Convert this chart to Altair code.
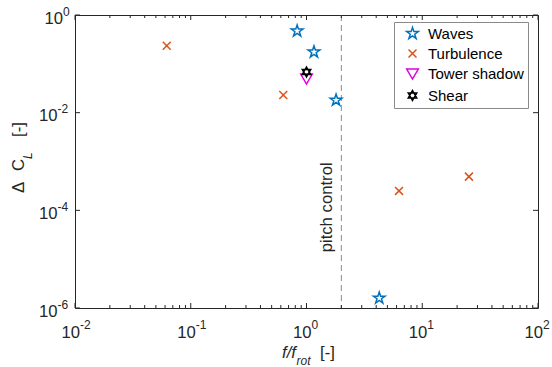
import altair as alt
import pandas as pd

# ---- data -------------------------------------------------------------
series_names = ["Waves", "Turbulence", "Tower shadow", "Shear"]
series_colors = ["#0072BD", "#D95319", "#E000E0", "#000000"]

waves_x = [0.83, 1.16, 1.8, 4.25]
waves_y = [0.47, 0.175, 0.018, 1.6e-6]
turb_x = [0.062, 0.63, 6.3, 25.3]
turb_y = [0.235, 0.023, 2.5e-4, 4.9e-4]
tower_x = [1.0]
tower_y = [0.05]
shear_x = [1.0]
shear_y = [0.068]

pitch_control_f = 2.0
pitch_label_y = 1.15e-4

x_exponents = [-2, -1, 0, 1, 2]
y_exponents = [-6, -4, -2, 0]

# ---- layout -----------------------------------------------------------
W, H = 463, 293
FONT = "Liberation Sans"
INK = "#262626"
AX_FS = 16.7   # axis text
SUP_FS = 12    # superscripts / subscripts
LEG_FS = 15    # legend entries
MSIZE = 150

# marker outlines on a [-1, 1] box
STAR = ("M0,-1L0.2245,-0.309L0.9511,-0.309L0.3633,0.118L0.5878,0.809L0,0.382"
        "L-0.5878,0.809L-0.3633,0.118L-0.9511,-0.309L-0.2245,-0.309Z")
XMARK = "M-0.65,-0.65L0.65,0.65M-0.65,0.65L0.65,-0.65"
TRI_DOWN = "M-0.95,-0.72L0.95,-0.72L0,0.9Z"
HEXAGRAM = ("M0,-0.8L0.6928,0.4L-0.6928,0.4Z"
            "M0,0.8L0.6928,-0.4L-0.6928,-0.4Z")
series_shapes = [STAR, XMARK, TRI_DOWN, HEXAGRAM]

rows = []
for name, xs_, ys_ in [("Waves", waves_x, waves_y),
                       ("Turbulence", turb_x, turb_y),
                       ("Tower shadow", tower_x, tower_y),
                       ("Shear", shear_x, shear_y)]:
    for a, b in zip(xs_, ys_):
        rows.append({"series": name, "f": a, "dcl": b})
points_df = pd.DataFrame(rows)

xs = alt.Scale(type="log", domain=[1e-2, 1e2], nice=False)
ys = alt.Scale(type="log", domain=[1e-6, 1], nice=False)

legend = alt.Legend(
    title=None, orient="none", legendX=319, legendY=7,
    strokeColor="#8a8a8a", fillColor="white", padding=4,
    rowPadding=4, symbolOffset=7, labelOffset=8,
    labelFont=FONT, labelFontSize=LEG_FS, labelColor="#000000", labelLimit=0,
    symbolSize=MSIZE, symbolStrokeWidth=1.5,
)

points = alt.Chart(points_df).mark_point(
    filled=False, size=MSIZE, strokeWidth=1.5, opacity=1
).encode(
    x=alt.X("f:Q", scale=xs, axis=None),
    y=alt.Y("dcl:Q", scale=ys, axis=None),
    color=alt.Color("series:N",
                    scale=alt.Scale(domain=series_names, range=series_colors),
                    legend=legend),
    shape=alt.Shape("series:N",
                    scale=alt.Scale(domain=series_names, range=series_shapes),
                    legend=legend),
)

# ---- pitch control marker line and label ------------------------------
pitch_df = pd.DataFrame({"f": [pitch_control_f], "dcl": [pitch_label_y],
                         "label": ["pitch control"]})
pitch_line = alt.Chart(pitch_df).mark_rule(
    color="#8c8c8c", strokeWidth=1, strokeDash=[6, 4]
).encode(x=alt.X("f:Q", scale=xs, axis=None))
pitch_text = alt.Chart(pitch_df).mark_text(
    angle=270, align="center", baseline="bottom", dy=-5,
    font=FONT, fontSize=AX_FS, color=INK
).encode(x=alt.X("f:Q", scale=xs, axis=None),
         y=alt.Y("dcl:Q", scale=ys, axis=None), text="label:N")

# ---- tick marks (inside, on all four sides) ---------------------------
x_major = [10.0 ** e for e in x_exponents]
x_minor = [m * 10.0 ** e for e in x_exponents[:-1] for m in range(2, 10)]
y_major = [10.0 ** e for e in y_exponents]


def xticks(values, length):
    d = pd.DataFrame({"f": values})
    bottom = alt.Chart(d).mark_rule(color=INK, strokeWidth=1).encode(
        x=alt.X("f:Q", scale=xs, axis=None),
        y=alt.value(H), y2=alt.value(H - length))
    top = alt.Chart(d).mark_rule(color=INK, strokeWidth=1).encode(
        x=alt.X("f:Q", scale=xs, axis=None),
        y=alt.value(0), y2=alt.value(length))
    return [bottom, top]


def yticks(values, length):
    d = pd.DataFrame({"dcl": values})
    left = alt.Chart(d).mark_rule(color=INK, strokeWidth=1).encode(
        y=alt.Y("dcl:Q", scale=ys, axis=None),
        x=alt.value(0), x2=alt.value(length))
    right = alt.Chart(d).mark_rule(color=INK, strokeWidth=1).encode(
        y=alt.Y("dcl:Q", scale=ys, axis=None),
        x=alt.value(W), x2=alt.value(W - length))
    return [left, right]


tick_layers = xticks(x_major, 5) + xticks(x_minor, 3) + yticks(y_major, 5)

# ---- tick labels: "10" with a raised exponent -------------------------
xlab_df = pd.DataFrame({"f": x_major, "base": "10",
                        "exp": [str(e) for e in x_exponents]})
xlab_base = alt.Chart(xlab_df).mark_text(
    align="right", baseline="alphabetic", dx=5,
    font=FONT, fontSize=AX_FS, color=INK
).encode(x=alt.X("f:Q", scale=xs, axis=None), y=alt.value(H + 29.5),
         text="base:N")
xlab_exp = alt.Chart(xlab_df).mark_text(
    align="left", baseline="alphabetic", dx=5,
    font=FONT, fontSize=SUP_FS, color=INK
).encode(x=alt.X("f:Q", scale=xs, axis=None), y=alt.value(H + 20.5),
         text="exp:N")

ylab_df = pd.DataFrame({"dcl": y_major, "base": "10",
                        "exp": [str(e) for e in y_exponents],
                        "e": y_exponents})


def ylabels(filter_expr, junction):
    base = alt.Chart(ylab_df).transform_filter(filter_expr).mark_text(
        align="right", baseline="alphabetic", dy=8.5,
        font=FONT, fontSize=AX_FS, color=INK
    ).encode(y=alt.Y("dcl:Q", scale=ys, axis=None), x=alt.value(junction),
             text="base:N")
    exp = alt.Chart(ylab_df).transform_filter(filter_expr).mark_text(
        align="left", baseline="alphabetic", dy=0.5,
        font=FONT, fontSize=SUP_FS, color=INK
    ).encode(y=alt.Y("dcl:Q", scale=ys, axis=None), x=alt.value(junction),
             text="exp:N")
    return [base, exp]


ylab_layers = ylabels("datum.e >= 0", -12) + ylabels("datum.e < 0", -17.5)


# ---- axis titles ------------------------------------------------------
def title_piece(text, x, y, size=AX_FS, angle=0, italic=False):
    kw = dict(align="left", baseline="alphabetic", font=FONT,
              fontSize=size, color=INK)
    if angle:
        kw["angle"] = angle
    if italic:
        kw["fontStyle"] = "italic"
    return alt.Chart(pd.DataFrame({"t": [text]})).mark_text(**kw).encode(
        x=alt.value(x), y=alt.value(y), text="t:N")


title_layers = [
    title_piece("f/f", 207, 342.5, italic=True),
    title_piece("rot", 221.5, 350, size=SUP_FS, italic=True),
    title_piece("[-]", 245, 342.5),
    title_piece("\u0394", -51.5, 178, angle=270),
    title_piece("C", -51.5, 156, angle=270),
    title_piece("L", -43, 144, size=SUP_FS, angle=270, italic=True),
    title_piece("[-]", -51.5, 122, angle=270),
]

chart = alt.layer(
    pitch_line, pitch_text, *tick_layers, points,
    xlab_base, xlab_exp, *ylab_layers, *title_layers,
).properties(
    width=W, height=H, autosize="none",
    padding={"left": 75, "top": 15, "right": 14, "bottom": 59},
    background="white",
).configure_view(stroke=INK, strokeWidth=1)

chart.save("out.html", embed_options={"renderer": "svg", "actions": False})
